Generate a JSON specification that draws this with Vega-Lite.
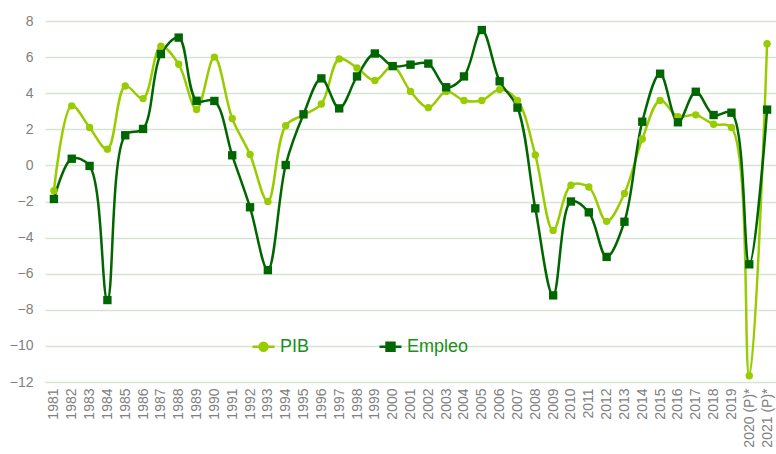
{
  "$schema": "https://vega.github.io/schema/vega-lite/v6.json",
  "width": 731,
  "height": 361,
  "autosize": "none",
  "padding": {"left": 45, "top": 21, "right": 0, "bottom": 72},
  "background": "white",
  "config": {
    "font": "Liberation Sans",
    "view": {"stroke": null}
  },
  "data": {
    "values": [
      {"year": "1981", "serie": "PIB", "value": -1.4}, {"year": "1981", "serie": "Empleo", "value": -1.86},
      {"year": "1982", "serie": "PIB", "value": 3.3}, {"year": "1982", "serie": "Empleo", "value": 0.37},
      {"year": "1983", "serie": "PIB", "value": 2.1}, {"year": "1983", "serie": "Empleo", "value": -0.03},
      {"year": "1984", "serie": "PIB", "value": 0.9}, {"year": "1984", "serie": "Empleo", "value": -7.46},
      {"year": "1985", "serie": "PIB", "value": 4.4}, {"year": "1985", "serie": "Empleo", "value": 1.67},
      {"year": "1986", "serie": "PIB", "value": 3.7}, {"year": "1986", "serie": "Empleo", "value": 2.02},
      {"year": "1987", "serie": "PIB", "value": 6.6}, {"year": "1987", "serie": "Empleo", "value": 6.17},
      {"year": "1988", "serie": "PIB", "value": 5.6}, {"year": "1988", "serie": "Empleo", "value": 7.08},
      {"year": "1989", "serie": "PIB", "value": 3.1}, {"year": "1989", "serie": "Empleo", "value": 3.58},
      {"year": "1990", "serie": "PIB", "value": 6.0}, {"year": "1990", "serie": "Empleo", "value": 3.57},
      {"year": "1991", "serie": "PIB", "value": 2.6}, {"year": "1991", "serie": "Empleo", "value": 0.56},
      {"year": "1992", "serie": "PIB", "value": 0.6}, {"year": "1992", "serie": "Empleo", "value": -2.32},
      {"year": "1993", "serie": "PIB", "value": -2.0}, {"year": "1993", "serie": "Empleo", "value": -5.8},
      {"year": "1994", "serie": "PIB", "value": 2.2}, {"year": "1994", "serie": "Empleo", "value": 0.02},
      {"year": "1995", "serie": "PIB", "value": 2.8}, {"year": "1995", "serie": "Empleo", "value": 2.83},
      {"year": "1996", "serie": "PIB", "value": 3.4}, {"year": "1996", "serie": "Empleo", "value": 4.82},
      {"year": "1997", "serie": "PIB", "value": 5.9}, {"year": "1997", "serie": "Empleo", "value": 3.16},
      {"year": "1998", "serie": "PIB", "value": 5.4}, {"year": "1998", "serie": "Empleo", "value": 4.93},
      {"year": "1999", "serie": "PIB", "value": 4.7}, {"year": "1999", "serie": "Empleo", "value": 6.2},
      {"year": "2000", "serie": "PIB", "value": 5.5}, {"year": "2000", "serie": "Empleo", "value": 5.5},
      {"year": "2001", "serie": "PIB", "value": 4.1}, {"year": "2001", "serie": "Empleo", "value": 5.58},
      {"year": "2002", "serie": "PIB", "value": 3.2}, {"year": "2002", "serie": "Empleo", "value": 5.64},
      {"year": "2003", "serie": "PIB", "value": 4.1}, {"year": "2003", "serie": "Empleo", "value": 4.33},
      {"year": "2004", "serie": "PIB", "value": 3.6}, {"year": "2004", "serie": "Empleo", "value": 4.93},
      {"year": "2005", "serie": "PIB", "value": 3.6}, {"year": "2005", "serie": "Empleo", "value": 7.5},
      {"year": "2006", "serie": "PIB", "value": 4.2}, {"year": "2006", "serie": "Empleo", "value": 4.66},
      {"year": "2007", "serie": "PIB", "value": 3.6}, {"year": "2007", "serie": "Empleo", "value": 3.2},
      {"year": "2008", "serie": "PIB", "value": 0.58}, {"year": "2008", "serie": "Empleo", "value": -2.38},
      {"year": "2009", "serie": "PIB", "value": -3.6}, {"year": "2009", "serie": "Empleo", "value": -7.2},
      {"year": "2010", "serie": "PIB", "value": -1.1}, {"year": "2010", "serie": "Empleo", "value": -2.0},
      {"year": "2011", "serie": "PIB", "value": -1.2}, {"year": "2011", "serie": "Empleo", "value": -2.6},
      {"year": "2012", "serie": "PIB", "value": -3.1}, {"year": "2012", "serie": "Empleo", "value": -5.07},
      {"year": "2013", "serie": "PIB", "value": -1.55}, {"year": "2013", "serie": "Empleo", "value": -3.12},
      {"year": "2014", "serie": "PIB", "value": 1.46}, {"year": "2014", "serie": "Empleo", "value": 2.42},
      {"year": "2015", "serie": "PIB", "value": 3.6}, {"year": "2015", "serie": "Empleo", "value": 5.08},
      {"year": "2016", "serie": "PIB", "value": 2.7}, {"year": "2016", "serie": "Empleo", "value": 2.39},
      {"year": "2017", "serie": "PIB", "value": 2.8}, {"year": "2017", "serie": "Empleo", "value": 4.08},
      {"year": "2018", "serie": "PIB", "value": 2.28}, {"year": "2018", "serie": "Empleo", "value": 2.79},
      {"year": "2019", "serie": "PIB", "value": 2.1}, {"year": "2019", "serie": "Empleo", "value": 2.92},
      {"year": "2020 (P)*", "serie": "PIB", "value": -11.65}, {"year": "2020 (P)*", "serie": "Empleo", "value": -5.48},
      {"year": "2021 (P)*", "serie": "PIB", "value": 6.74}, {"year": "2021 (P)*", "serie": "Empleo", "value": 3.09}
    ]
  },
  "encoding": {
    "x": {
      "field": "year", "type": "ordinal", "sort": null,
      "scale": {"type": "point", "padding": 0.5},
      "axis": {
        "title": null, "labelAngle": -90, "labelFontSize": 14, "labelColor": "#808080",
        "ticks": false, "domain": false, "grid": false, "labelPadding": 6,
        "labelAlign": "right", "labelBaseline": "middle"
      }
    },
    "y": {
      "field": "value", "type": "quantitative",
      "scale": {"domain": [-12, 8], "nice": false, "zero": false},
      "axis": {
        "title": null, "values": [-12, -10, -8, -6, -4, -2, 0, 2, 4, 6, 8],
        "labelFontSize": 14, "labelColor": "#808080", "ticks": false, "domain": false,
        "gridColor": "#d6e4d6", "gridWidth": 1.5, "labelPadding": 12
      }
    },
    "color": {
      "field": "serie", "type": "nominal",
      "scale": {"domain": ["PIB", "Empleo"], "range": ["#99cc00", "#006600"]},
      "legend": {
        "title": null, "orient": "none", "legendX": 206, "legendY": 313,
        "direction": "horizontal", "columns": 2, "columnPadding": 64,
        "labelFontSize": 18, "labelColor": "#1a8f1a", "labelOffset": 4,
        "symbolSize": 484, "symbolStrokeWidth": 2.5,
        "encode": {
          "symbols": {
            "update": {
              "shape": {"signal": "datum.value === 'PIB' ? 'M-1,0L1,0M-0.36,0A0.36,0.36,0,1,0,0.36,0A0.36,0.36,0,1,0,-0.36,0Z' : 'M-1,0L1,0M-0.36,-0.36L0.36,-0.36L0.36,0.36L-0.36,0.36Z'"},
              "size": {"value": 484},
              "fill": {"signal": "datum.value === 'PIB' ? '#99cc00' : '#006600'"},
              "stroke": {"signal": "datum.value === 'PIB' ? '#99cc00' : '#006600'"},
              "strokeWidth": {"value": 2.5},
              "opacity": {"value": 1}
            }
          }
        }
      }
    }
  },
  "layer": [
    {
      "mark": {"type": "line", "interpolate": "catmull-rom", "strokeWidth": 2.5}
    },
    {
      "transform": [{"filter": "datum.serie === 'PIB'"}],
      "mark": {"type": "point", "filled": true, "opacity": 1, "shape": "circle", "size": 55}
    },
    {
      "transform": [{"filter": "datum.serie === 'Empleo'"}],
      "mark": {"type": "point", "filled": true, "opacity": 1, "shape": "square", "size": 70}
    }
  ]
}
